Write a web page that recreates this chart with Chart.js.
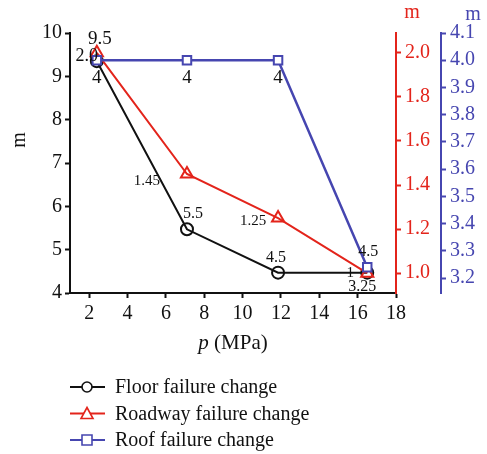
<!DOCTYPE html>
<html>
<head>
<meta charset="utf-8">
<script src="https://cdn.jsdelivr.net/npm/chart.js@4"></script>
<style>
  body { margin: 0; background: #fff; }
  #wrap { width: 487px; height: 454px; position: relative; }
</style>
</head>
<body>
<div id="wrap"><canvas id="chart"></canvas></div>
<script>
// p values (MPa) where each failure was measured
const pressure = [2.4, 7.1, 11.85, 16.5];

// series values, as drawn on each of the three axes
const floorValues = [9.35, 5.47, 4.47, 4.47];
const roadwayValues = [2.0, 1.45, 1.25, 1.0];
const roofValues = [4.0, 4.0, 4.0, 3.24];

// value labels written next to the points
const floorLabels = ['9.5', '5.5', '4.5', '4.5'];
const roadwayLabels = ['2.0', '1.45', '1.25', '1'];
const roofLabels = ['4', '4', '4', '3.25'];

const seriesNames = ['Floor failure change', 'Roadway failure change', 'Roof failure change'];

const BLACK = '#111111';
const RED = '#e3241b';
const BLUE = '#4646b0';
const FONT = '"Liberation Serif", "DejaVu Serif", serif';
const TICK = 20;

function pts(values) {
    return values.map((v, i) => ({ x: pressure[i], y: v }));
}

// where each label sits relative to its point (dx, dy, size)
const labelSpots = [
    [[3, -22, 19], [6, -16, 16], [-2, -15, 16], [1, -21, 16]],
    [[-10, 3, 18], [-40, 7, 15], [-25, 3, 15], [-17, 0, 15]],
    [[0, 18, 19], [0, 18, 19], [0, 18, 19], [-5, 20, 16]]
];
const labelTexts = [floorLabels, roadwayLabels, roofLabels];

const pointLabels = {
    id: 'pointLabels',
    afterDatasetsDraw(chart) {
        const c = chart.ctx;
        c.save();
        c.fillStyle = '#111';
        c.textAlign = 'center';
        c.textBaseline = 'middle';
        chart.data.datasets.forEach((ds, d) => {
            chart.getDatasetMeta(d).data.forEach((el, i) => {
                const [dx, dy, size] = labelSpots[d][i];
                c.font = size + 'px ' + FONT;
                c.fillText(labelTexts[d][i], el.x + dx, el.y + dy);
            });
        });
        c.restore();
    }
};

// axis titles and the legend at the bottom
const extras = {
    id: 'extras',
    afterDraw(chart) {
        const c = chart.ctx;
        const s = chart.scales;
        c.save();
        c.textBaseline = 'middle';
        c.textAlign = 'center';

        // left title
        c.font = '20px ' + FONT;
        c.fillStyle = BLACK;
        c.save();
        c.translate(20, (s.y.top + s.y.bottom) / 2 - 23);
        c.rotate(-Math.PI / 2);
        c.fillText('m', 0, 0);
        c.restore();

        // right titles on top of the axes
        c.fillStyle = RED;
        c.fillText('m', s.y1.left + 16, 13);
        c.fillStyle = BLUE;
        c.fillText('m', s.y2.left + 32, 15);

        // x title: italic p, then (MPa)
        c.fillStyle = BLACK;
        c.textAlign = 'left';
        c.font = 'italic 21px ' + FONT;
        const w1 = c.measureText('p').width;
        c.font = '21px ' + FONT;
        const w2 = c.measureText(' (MPa)').width;
        const x0 = (s.x.left + s.x.right) / 2 - (w1 + w2) / 2;
        c.font = 'italic 21px ' + FONT;
        c.fillText('p', x0, 343);
        c.font = '21px ' + FONT;
        c.fillText(' (MPa)', x0 + w1, 343);

        // legend
        const colors = [BLACK, RED, BLUE];
        c.font = '20px ' + FONT;
        seriesNames.forEach((name, i) => {
            const y = 387 + i * 26.5;
            c.strokeStyle = colors[i];
            c.lineWidth = 2;
            c.beginPath();
            c.moveTo(70, y);
            c.lineTo(105, y);
            c.stroke();
            c.fillStyle = '#fff';
            c.lineWidth = 1.6;
            c.beginPath();
            if (i === 0) {
                c.arc(87, y, 5, 0, Math.PI * 2);
            } else if (i === 1) {
                c.moveTo(87, y - 6);
                c.lineTo(93, y + 5);
                c.lineTo(81, y + 5);
                c.closePath();
            } else {
                c.rect(82, y - 5, 10, 10);
            }
            c.fill();
            c.stroke();
            c.fillStyle = '#111';
            c.fillText(name, 115, y + 1);
        });
        c.restore();
    }
};

function axis(color, extra) {
    return Object.assign({
        grid: { display: true, drawOnChartArea: false, drawTicks: true, tickLength: 5, tickWidth: 2, color: color },
        border: { display: true, color: color, width: 2 }
    }, extra);
}

new Chart(document.getElementById('chart'), {
    type: 'line',
    data: {
        datasets: [
            {
                label: seriesNames[0], data: pts(floorValues), yAxisID: 'y', order: 2,
                borderColor: BLACK, borderWidth: 2, pointStyle: 'circle', pointRadius: 6,
                pointBorderColor: BLACK, pointBackgroundColor: 'rgba(255,255,255,0)', pointBorderWidth: 2
            },
            {
                label: seriesNames[1], data: pts(roadwayValues), yAxisID: 'y1', order: 1,
                borderColor: RED, borderWidth: 2, pointStyle: 'triangle', pointRadius: 7,
                pointBorderColor: RED, pointBackgroundColor: 'rgba(255,255,255,0)', pointBorderWidth: 2
            },
            {
                label: seriesNames[2], data: pts(roofValues), yAxisID: 'y2', order: 0,
                borderColor: BLUE, borderWidth: 2.5, pointStyle: 'rect', pointRadius: 6,
                pointBorderColor: BLUE, pointBackgroundColor: '#fff', pointBorderWidth: 2
            }
        ]
    },
    options: {
        responsive: true,
        maintainAspectRatio: false,
        animation: false,
        layout: { padding: { top: 33, bottom: 94, left: 0, right: 0 } },
        plugins: { legend: { display: false }, tooltip: { enabled: false } },
        scales: {
            x: axis(BLACK, {
                type: 'linear', min: 1, max: 18,
                ticks: { color: BLACK, font: { family: FONT, size: TICK }, stepSize: 2, includeBounds: false, padding: 4 },
                afterFit: s => { s.height = 67; }
            }),
            y: axis(BLACK, {
                position: 'left', min: 4, max: 10,
                ticks: { color: BLACK, font: { family: FONT, size: TICK }, stepSize: 1, padding: 3 },
                afterFit: s => { s.width = 70; }
            }),
            y1: axis(RED, {
                position: 'right', min: 0.91, max: 2.09,
                ticks: { color: RED, font: { family: FONT, size: TICK }, stepSize: 0.2, includeBounds: false, padding: 4,
                    callback: v => v.toFixed(1) },
                afterFit: s => { s.width = 45; }
            }),
            y2: axis(BLUE, {
                position: 'right', min: 3.145, max: 4.1,
                ticks: { color: BLUE, font: { family: FONT, size: TICK }, stepSize: 0.1, includeBounds: false, padding: 4,
                    callback: v => v.toFixed(1) },
                afterFit: s => { s.width = 46; }
            })
        }
    },
    plugins: [pointLabels, extras]
});
</script>
</body>
</html>
